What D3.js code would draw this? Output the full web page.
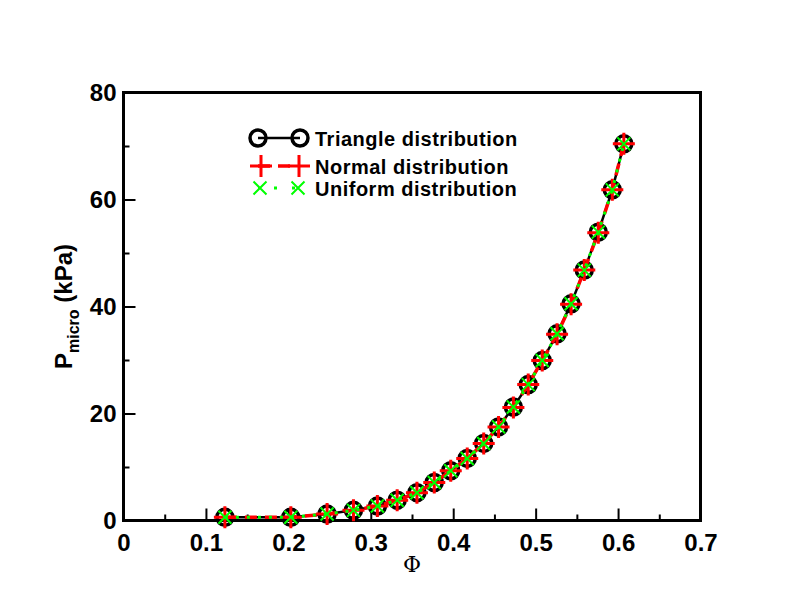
<!DOCTYPE html>
<html>
<head>
<meta charset="utf-8">
<script src="https://cdn.jsdelivr.net/npm/d3@7"></script>
<style>
  body { margin: 0; background: #fff; }
  svg { display: block; }
  text { font-family: "Liberation Sans", Arial, Helvetica, sans-serif; font-weight: bold; }
</style>
</head>
<body>
<svg width="792" height="612"></svg>
<script>
// values
var phiVals = [0.123, 0.203, 0.247, 0.279, 0.308, 0.332, 0.356, 0.377, 0.397, 0.417, 0.437,
               0.455, 0.473, 0.491, 0.508, 0.526, 0.543, 0.559, 0.576, 0.593, 0.607];
var pTriangle = [0.6, 0.6, 1.2, 1.9, 2.7, 3.8, 5.2, 7.1, 9.3, 11.6, 14.4,
                 17.5, 21.2, 25.4, 29.9, 34.9, 40.5, 46.8, 53.9, 61.8, 70.4];
var pNormal   = [0.6, 0.6, 1.2, 1.9, 2.7, 3.8, 5.2, 7.1, 9.3, 11.6, 14.4,
                 17.5, 21.1, 25.4, 29.9, 34.8, 40.4, 46.8, 53.8, 61.8, 70.4];
var pUniform  = [0.6, 0.6, 1.2, 1.9, 2.7, 3.8, 5.2, 7.1, 9.3, 11.6, 14.4,
                 17.5, 21.2, 25.4, 29.9, 34.9, 40.5, 46.8, 53.9, 61.8, 70.4];
var seriesNames = ["Triangle distribution", "Normal distribution", "Uniform distribution"];
var xTicks = [0, 0.1, 0.2, 0.3, 0.4, 0.5, 0.6, 0.7];
var xMinor = [0.05, 0.15, 0.25, 0.35, 0.45, 0.55, 0.65];
var yTicks = [0, 20, 40, 60, 80];
var yMinor = [10, 30, 50, 70];

var svg = d3.select("svg");
var pLeft = 123.5, pRight = 700.5, pTop = 92.5, pBottom = 520.5;

var x = d3.scaleLinear().domain([0, 0.7]).range([pLeft, pRight]);
var y = d3.scaleLinear().domain([0, 80]).range([pBottom, pTop]);

// ticks (inward)
var gx = svg.append("g").attr("transform", "translate(0," + pBottom + ")")
  .call(d3.axisBottom(x).tickValues(xTicks).tickSize(-12).tickPadding(13)
    .tickFormat(function(d) { return d === 0 ? "0" : d3.format(".1f")(d); }));
svg.append("g").attr("transform", "translate(0," + pBottom + ")")
  .call(d3.axisBottom(x).tickValues(xMinor).tickSize(-6).tickFormat(""));
var gy = svg.append("g").attr("transform", "translate(" + pLeft + ",0)")
  .call(d3.axisLeft(y).tickValues(yTicks).tickSize(-12).tickPadding(7));
svg.append("g").attr("transform", "translate(" + pLeft + ",0)")
  .call(d3.axisLeft(y).tickValues(yMinor).tickSize(-6).tickFormat(""));

svg.selectAll(".domain").remove();
svg.selectAll(".tick line").attr("stroke", "#000").attr("stroke-width", 2);
gx.selectAll(".tick text").attr("font-size", 24).attr("fill", "#000").attr("dy", "0.71em");
gy.selectAll(".tick text").attr("font-size", 24).attr("fill", "#000");

svg.append("rect")
  .attr("x", pLeft).attr("y", pTop)
  .attr("width", pRight - pLeft).attr("height", pBottom - pTop)
  .attr("fill", "none").attr("stroke", "#000").attr("stroke-width", 3);

// axis titles
svg.append("text")
  .attr("x", (pLeft + pRight) / 2).attr("y", 572)
  .attr("text-anchor", "middle")
  .style("font-family", "'DejaVu Serif', 'Liberation Serif', serif")
  .style("font-weight", "normal")
  .attr("font-size", 22)
  .text("\u03A6");

var yt = svg.append("text")
  .attr("transform", "translate(72," + ((pTop + pBottom) / 2) + ") rotate(-90)")
  .attr("text-anchor", "middle")
  .attr("font-size", 24);
yt.append("tspan").text("P");
yt.append("tspan").attr("font-size", 16).attr("dy", 7).text("micro");
yt.append("tspan").attr("dy", -7).text(" (kPa)");

var line = d3.line()
  .x(function(d) { return x(d[0]); })
  .y(function(d) { return y(d[1]); });

function pairs(p) { return phiVals.map(function(v, i) { return [v, p[i]]; }); }

var triData = pairs(pTriangle), normData = pairs(pNormal), uniData = pairs(pUniform);

function drawCircle(g, cx, cy) {
  g.append("circle").attr("cx", cx).attr("cy", cy).attr("r", 8)
    .attr("fill", "none").attr("stroke", "#000").attr("stroke-width", 3.5);
}
function drawPlus(g, cx, cy) {
  g.append("path").attr("d", "M" + (cx - 11) + "," + cy + "H" + (cx + 11) + "M" + cx + "," + (cy - 11) + "V" + (cy + 11))
    .attr("stroke", "#ff0000").attr("stroke-width", 3).attr("fill", "none");
}
function drawCross(g, cx, cy) {
  var s = 6.5;
  g.append("path").attr("d", "M" + (cx - s) + "," + (cy - s) + "L" + (cx + s) + "," + (cy + s) +
      "M" + (cx - s) + "," + (cy + s) + "L" + (cx + s) + "," + (cy - s))
    .attr("stroke", "#00ff00").attr("stroke-width", 2).attr("fill", "none");
}

// triangle
svg.append("path").datum(triData).attr("d", line)
  .attr("fill", "none").attr("stroke", "#000").attr("stroke-width", 2.5);
var gT = svg.append("g");
triData.forEach(function(d) { drawCircle(gT, x(d[0]), y(d[1])); });

// normal
svg.append("path").datum(normData).attr("d", line)
  .attr("fill", "none").attr("stroke", "#ff0000").attr("stroke-width", 3.5)
  .attr("stroke-dasharray", "12,8");
var gN = svg.append("g");
normData.forEach(function(d) { drawPlus(gN, x(d[0]), y(d[1])); });

// uniform
svg.append("path").datum(uniData).attr("d", line)
  .attr("fill", "none").attr("stroke", "#00ff00").attr("stroke-width", 3)
  .attr("stroke-dasharray", "3,8");
var gU = svg.append("g");
uniData.forEach(function(d) { drawCross(gU, x(d[0]), y(d[1])); });

// legend
var lg = svg.append("g");
var lx0 = 258, lx1 = 300, textX = 315;
var rows = [138, 166, 188];
lg.append("line").attr("x1", lx0).attr("x2", lx1).attr("y1", rows[0]).attr("y2", rows[0])
  .attr("stroke", "#000").attr("stroke-width", 2.5);
drawCircle(lg, lx0, rows[0]); drawCircle(lg, lx1, rows[0]);
lg.append("line").attr("x1", lx0).attr("x2", lx1).attr("y1", rows[1]).attr("y2", rows[1])
  .attr("stroke", "#ff0000").attr("stroke-width", 3.5).attr("stroke-dasharray", "12,8");
drawPlus(lg, lx0 + 3, rows[1]); drawPlus(lg, lx1 - 1, rows[1]);
lg.append("line").attr("x1", lx0).attr("x2", lx1).attr("y1", rows[2]).attr("y2", rows[2])
  .attr("stroke", "#00ff00").attr("stroke-width", 3).attr("stroke-dasharray", "3,15")
  .attr("stroke-dashoffset", -16);
drawCross(lg, lx0 + 2, rows[2]); drawCross(lg, lx1 - 2, rows[2]);

lg.selectAll(".ltext").data(seriesNames).enter().append("text")
  .attr("x", textX).attr("y", function(d, i) { return rows[i] + 7.5; })
  .attr("font-size", 20).attr("letter-spacing", 0.5)
  .attr("fill", "#000")
  .text(function(d) { return d; });
</script>
</body>
</html>
